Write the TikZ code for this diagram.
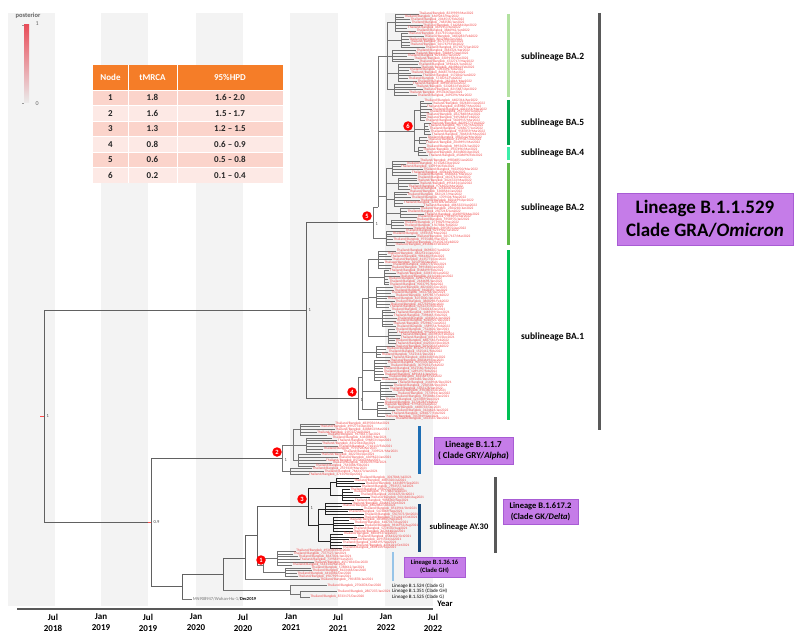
\documentclass[tikz,border=0pt]{standalone}
\usepackage{fontspec}
\setmainfont{Carlito}
\definecolor{hdr}{RGB}{245,125,40}
\definecolor{rowa}{RGB}{251,212,203}
\definecolor{rowb}{RGB}{253,233,229}
\definecolor{tipred}{RGB}{240,72,72}
\definecolor{stripe}{RGB}{243,243,243}
\definecolor{purp}{RGB}{197,124,232}
\definecolor{purpd}{RGB}{168,92,212}
\definecolor{gBAtwo}{RGB}{178,225,160}
\definecolor{gBAfive}{RGB}{0,166,80}
\definecolor{gBAfour}{RGB}{60,238,170}
\definecolor{gBAtwob}{RGB}{96,184,70}
\definecolor{gBAone}{RGB}{0,192,84}
\definecolor{alphab}{RGB}{30,110,180}
\definecolor{aythirty}{RGB}{22,72,122}
\definecolor{ghblue}{RGB}{150,196,232}
\definecolor{postred}{RGB}{232,78,90}
\pgfmathdeclarerandomlist{om}{{Jan2022}{Feb2022}{Mar2022}{Apr2022}{May2022}{Jun2022}}
\pgfmathdeclarerandomlist{ba1}{{Dec2021}{Jan2022}{Feb2022}}
\pgfmathdeclarerandomlist{al}{{Jan2021}{Feb2021}{Mar2021}{Apr2021}}
\pgfmathdeclarerandomlist{de}{{Jul2021}{Aug2021}{Sep2021}{Oct2021}}
\pgfmathdeclarerandomlist{gh}{{Dec2020}{Jan2021}}
\newcommand\clus[8]{%
  \pgfmathsetmacro\cya{#3}%
  \pgfmathsetmacro\cyb{#3+(#4-1)*2.8}%
  \pgfmathsetmacro\cym{(\cya+\cyb)/2}%
  \draw[#8] (#1,\cym) -- (#2,\cym);%
  \draw[#8] (#2,\cya) -- (#2,\cyb);%
  \foreach \k in {1,...,#4}{%
    \pgfmathsetmacro\yy{#3+(\k-1)*2.8}%
    \pgfmathsetmacro\xt{#5+rnd*#6}%
    \pgfmathrandominteger{\ida}{100}{999}%
    \pgfmathrandominteger{\idb}{1000}{9999}%
    \pgfmathrandomitem{\tmo}{#7}%
    \draw[#8] (#2,\yy) -- (\xt,\yy) node[tiplab]{Thailand/Bangkok\_\ida\idb/\tmo};%
  }%
}
\begin{document}
\begin{tikzpicture}[x=1pt,y=-1pt,
  br/.style={draw=black!55, line width=0.5pt},
  brd/.style={draw=black!85, line width=0.55pt},
  sp/.style={draw=black!62, line width=0.75pt},
  tiplab/.style={anchor=west, inner sep=0.4pt, font=\fontsize{3.5}{3.5}\selectfont, text=tipred},
  post/.style={anchor=west, inner sep=0.5pt, font=\fontsize{4.5}{4.5}\selectfont, text=black!75},
  circ/.style={circle, fill=red, text=white, inner sep=0pt, minimum size=9.5pt, font=\bfseries\fontsize{6.5}{6.5}\selectfont},
  lbox/.style={fill=purp, draw=purpd, line width=0.6pt, inner sep=0pt, align=center},
  subl/.style={anchor=west, inner sep=0pt, font=\bfseries\fontsize{9.5}{9.5}\selectfont},
  tick/.style={align=center, inner sep=0pt, font=\bfseries\fontsize{9}{11}\selectfont},
  tcell/.style={inner sep=0pt, font=\bfseries\fontsize{9}{9}\selectfont, text=black!85},
  bar/.style={line width=3pt}]
\useasboundingbox (0,0) rectangle (799,639);
\pgfmathsetseed{11}
% background stripes
\foreach \a/\b in {8/55,101/148,196/243,290/338,385/433}
  \fill[stripe] (\a,13) rectangle (\b,606);
% legend
\node[inner sep=0pt, font=\bfseries\fontsize{6.5}{6.5}\selectfont, text=black!60] (plab) at (28,16) {posterior};
\shade[top color=postred, bottom color=white!92!black] (24,25) rectangle (29,103);
\draw[black!40, line width=0.4pt] (22,25) -- (24,25) (22,103) -- (24,103);
\node[post, font=\fontsize{6}{6}\selectfont, text=black!60] (p1) at (35,24) {1};
\node[post, font=\fontsize{6}{6}\selectfont, text=black!60] (p0) at (35,104) {0};
% table
\fill[hdr] (93,65) rectangle (283,90);
\foreach \i in {1,...,6}{
  \pgfmathsetmacro\ra{90+15.5*(\i-1)}
  \pgfmathsetmacro\rb{90+15.5*\i}
  \pgfmathtruncatemacro\odd{mod(\i,2)}
  \ifnum\odd=1 \fill[rowa] (93,\ra) rectangle (283,\rb); \else \fill[rowb] (93,\ra) rectangle (283,\rb); \fi
  \draw[white, line width=0.8pt] (93,\ra) -- (283,\ra);
}
\draw[white, line width=0.8pt] (128,65) -- (128,183) (177,65) -- (177,183);
\node[tcell, text=white] (hn) at (110.5,77.5) {Node};
\node[tcell, text=white] (ht) at (152.5,77.5) {tMRCA};
\node[tcell, text=white] (hh) at (230,77.5) {95\%HPD};
\foreach \i/\t/\h in {1/1.8/1.6 - 2.0, 2/1.6/1.5 - 1.7, 3/1.3/1.2 – 1.5, 4/0.8/0.6 – 0.9, 5/0.6/0.5 – 0.8, 6/0.2/0.1 – 0.4}{
  \pgfmathsetmacro\ry{90+15.5*(\i-0.5)}
  \node[tcell] (tn\i) at (110.5,\ry) {\i};
  \node[tcell] (tt\i) at (152.5,\ry) {\t};
  \node[tcell] (th\i) at (230,\ry) {\h};
}
% axis
\draw[black!65, line width=1.2pt] (17,609) -- (433,609);
\foreach \x/\m/\y in {53/Jul/2018,101/Jan/2019,148/Jul/2019,196/Jan/2020,243/Jul/2020,291/Jan/2021,338/Jul/2021,386/Jan/2022,433/Jul/2022}
  \node[tick] at (\x,622.5) {\m\\\y};
\node[inner sep=0pt, font=\bfseries\fontsize{8.5}{8.5}\selectfont] (year) at (445,604) {Year};
% ---------------- main tree ----------------
\coordinate (R) at (44,416.3);
\coordinate (OM) at (306,310.25);
\coordinate (N5) at (373,222.5);
\coordinate (NC) at (378,207);
\coordinate (N4) at (358,398);
\coordinate (ND) at (362,377);
\coordinate (NE) at (368,297.9);
\coordinate (N09) at (151,522.3);
\coordinate (N2) at (282,458.1);
\coordinate (NF) at (293,444.8);
\coordinate (N182) at (182,586.45);
\coordinate (N223) at (223,573.9);
\coordinate (N245) at (245,557.9);
\coordinate (N257) at (257,535.85);
\coordinate (N3) at (308,506.7);
\coordinate (NG) at (330,488.5);
\coordinate (NH) at (318,524.9);
\coordinate (N1) at (263,565);
\coordinate (N300) at (290,589.9);
\coordinate (N315) at (300,594.25);
\draw[sp] (OM) -- (R |- OM) -- (R |- N09) -- (N09);
\draw[sp] (N5) -- (OM |- N5) -- (OM |- N4) -- (N4);
\draw[br] (N5 |- NC) -- (373,238);
\draw[br] (N5 |- NC) -- (NC);
\draw[br] (378,56) -- (NC);
\draw[br] (378,56) -- (387,56);
\draw[br] (387,22.4) -- (387,89.6);
\draw[br] (378,130.9) -- (414,130.9);
\draw[br] (414,110.6) -- (414,151.2);
\draw[br] (378,196) -- (386,196);
\draw[br] (386,168) -- (386,224);
% BA.2 top
\clus{387}{395}{14}{7}{403}{24}{om}{br}
\clus{387}{401}{33.6}{6}{406}{22}{om}{br}
\clus{387}{392}{50.4}{5}{400}{24}{om}{br}
\clus{387}{398}{64.4}{7}{403}{25}{om}{br}
\clus{387}{394}{84}{5}{400}{26}{om}{br}
% node 6: BA.5 / BA.4
\clus{414}{420}{100.8}{8}{424}{9}{om}{br}
\clus{414}{424}{123.2}{5}{427}{6}{om}{br}
\clus{414}{419}{137.2}{3}{423}{8}{om}{br}
\clus{414}{418}{147}{4}{422}{9}{om}{br}
% BA.2 second
\clus{386}{392}{161}{6}{398}{26}{om}{br}
\clus{386}{398}{177.8}{5}{403}{24}{om}{br}
\clus{386}{394}{191.8}{6}{399}{26}{om}{br}
\clus{386}{400}{208.6}{4}{405}{20}{om}{br}
\clus{386}{391}{219.8}{4}{396}{24}{om}{br}
\clus{373}{386}{231}{6}{392}{24}{om}{br}
% BA.1
\draw[br] (N4 |- ND) -- (N4 |- 0,419);
\draw[br] (N4 |- ND) -- (ND);
\draw[br] (362,297.9) -- (362,409.2);
\draw[br] (ND |- NE) -- (NE);
\draw[br] (368,259.4) -- (368,336.4);
\clus{368}{378}{251}{7}{383}{14}{ba1}{br}
\clus{368}{384}{270.6}{6}{388}{12}{ba1}{br}
\clus{368}{376}{287.4}{8}{381}{15}{ba1}{br}
\clus{368}{382}{309.8}{7}{386}{13}{ba1}{br}
\clus{368}{388}{329.4}{6}{392}{10}{ba1}{br}
\clus{362}{376}{346.2}{5}{381}{14}{ba1}{br}
\clus{362}{374}{360.2}{8}{379}{16}{ba1}{br}
\clus{362}{380}{382.6}{7}{385}{13}{ba1}{br}
\clus{362}{377}{402.2}{6}{382}{14}{ba1}{br}
\clus{358}{358}{419}{1}{392}{4}{ba1}{br}
% lower part of the tree
\draw[sp] (N09 |- N2) -- (N09 |- N182);
\draw[sp] (N09 |- N2) -- (N2);
\draw[br] (N2 |- NF) -- (282,471.4);
\draw[br] (N2 |- NF) -- (NF);
\draw[br] (293,429.4) -- (293,460.2);
\clus{293}{300}{423.8}{5}{316}{26}{al}{br}
\clus{293}{306}{437.8}{6}{318}{26}{al}{br}
\clus{293}{298}{454.6}{5}{314}{28}{al}{br}
\clus{282}{290}{468.6}{3}{308}{22}{al}{br}
\draw[sp] (N09 |- N182) -- (N182);
\draw[sp] (N182 |- N223) -- (182,599);
\draw[br] (182,599) -- (192,599) node[anchor=west, inner sep=0.5pt, font=\fontsize{4.5}{4.5}\selectfont, text=black!55] (wuhan) {MN908947/Wuhan-Hu-1/\textbf{\color{black}Dec2019}};
\draw[sp] (N182 |- N223) -- (N223);
\draw[sp] (N223 |- N245) -- (223,589.9);
\draw[sp] (N223 |- N245) -- (N245);
\draw[sp] (N245 |- N257) -- (245,579.5);
\draw[sp] (N245 |- N257) -- (N257);
\clus{245}{245}{579.5}{1}{318}{6}{gh}{br}
\draw[sp] (N257 |- N3) -- (257,565);
\draw[sp] (N257 |- N3) -- (N3);
\draw[brd] (N3 |- NG) -- (N3 |- NH);
\draw[brd] (N3 |- NG) -- (NG);
\draw[brd] (N3 |- NH) -- (NH);
\draw[brd] (330,482.2) -- (330,494.8);
\draw[brd] (318,508.8) -- (318,541);
\clus{330}{336}{478}{4}{348}{20}{de}{brd}
\clus{330}{342}{489.2}{5}{350}{20}{de}{brd}
\clus{318}{325}{503.2}{5}{340}{25}{de}{brd}
\clus{318}{333}{517.2}{6}{345}{22}{de}{brd}
\clus{318}{330}{534}{6}{342}{25}{de}{brd}
\draw[br] (N257 |- N1) -- (N1);
\draw[br] (263,558) -- (263,572);
\clus{263}{277}{551}{6}{292}{22}{gh}{br}
\clus{263}{285}{567.8}{4}{293}{20}{gh}{br}
\draw[br] (223,589.9) -- (N300);
\draw[br] (290,585.5) -- (290,594.25);
\clus{290}{290}{585.5}{1}{327}{0}{gh}{br}
\draw[br] (290,594.25) -- (N315);
\draw[br] (300,591.5) -- (300,597);
\clus{300}{300}{591.5}{1}{337}{0}{gh}{br}
\clus{300}{300}{597}{1}{310}{0}{gh}{br}
% posterior labels
\node[post] (pr) at (46,416.3) {1};
\draw[red!70, line width=0.5pt] (40,416.3) -- (44,416.3);
\node[post] (pom) at (308,310.25) {1};
\node[post] (p5) at (375,224) {1};
\node[post] (p4) at (360,400) {1};
\node[post] (p3) at (310,508.5) {1};
\node[post] (p2) at (284,460) {1};
\node[post] (p09) at (153,522.3) {0.9};
\draw[red!70, line width=0.5pt] (148,522.3) -- (151,522.3);
% numbered node markers
\node[circ] (c1) at (261,560) {1};
\node[circ] (c2) at (277,452) {2};
\node[circ] (c3) at (302,499) {3};
\node[circ] (c4) at (352,392) {4};
\node[circ] (c5) at (367,216) {5};
\node[circ] (c6) at (408,126) {6};
% sublineage bars
\draw[bar, gBAtwo] (508,14) -- (508,97);
\draw[bar, gBAfive] (508,100) -- (508,145);
\draw[bar, gBAfour] (508,147) -- (508,160);
\draw[bar, gBAtwob] (508,163) -- (508,245);
\draw[bar, gBAone] (508,250) -- (508,420);
\draw[bar, black!65] (599,13) -- (599,430);
\draw[bar, alphab] (419,426) -- (419,474);
\draw[bar, aythirty] (419,504) -- (419,552);
\draw[bar, ghblue, line width=2.5pt] (393,552) -- (393,581);
\draw[bar, black!65] (495,477) -- (495,553);
\node[subl] (s1) at (521,57) {sublineage BA.2};
\node[subl] (s2) at (521,123) {sublineage BA.5};
\node[subl] (s3) at (521,153) {sublineage BA.4};
\node[subl] (s4) at (521,208) {sublineage BA.2};
\node[subl] (s5) at (521,337) {sublineage BA.1};
\node[inner sep=0pt, font=\bfseries\fontsize{8.5}{8.5}\selectfont] (ay) at (459,527) {sublineage AY.30};
% lineage boxes
\node[lbox, minimum width=176pt, minimum height=52pt, font=\bfseries\fontsize{19}{23}\selectfont] (omb) at (705,219) {Lineage B.1.1.529\\Clade GRA/\textit{Omicron}};
\node[lbox, minimum width=79pt, minimum height=27pt, font=\bfseries\fontsize{9}{11}\selectfont] (alb) at (473.5,450.5) {Lineage B.1.1.7\\( Clade GRY/\textit{Alpha})};
\node[lbox, minimum width=75pt, minimum height=25pt, font=\bfseries\fontsize{8.5}{11}\selectfont] (deb) at (540.5,511.5) {Lineage B.1.617.2\\(Clade GK/\textit{Delta})};
\node[lbox, minimum width=61pt, minimum height=20pt, font=\bfseries\fontsize{6.5}{8}\selectfont] (ghb) at (434.5,567) {Lineage B.1.36.16\\(Clade GH)};
% bottom lineage labels
\node[anchor=west, inner sep=0pt, font=\fontsize{5}{5}\selectfont] (l1) at (392,586) {Lineage B.1.524 (Clade G)};
\node[anchor=west, inner sep=0pt, font=\fontsize{5}{5}\selectfont] (l2) at (392,591.5) {Lineage B.1.351 (Clade GH)};
\node[anchor=west, inner sep=0pt, font=\fontsize{5}{5}\selectfont] (l3) at (392,597) {Lineage B.1.525 (Clade G)};
\end{tikzpicture}
\end{document}
